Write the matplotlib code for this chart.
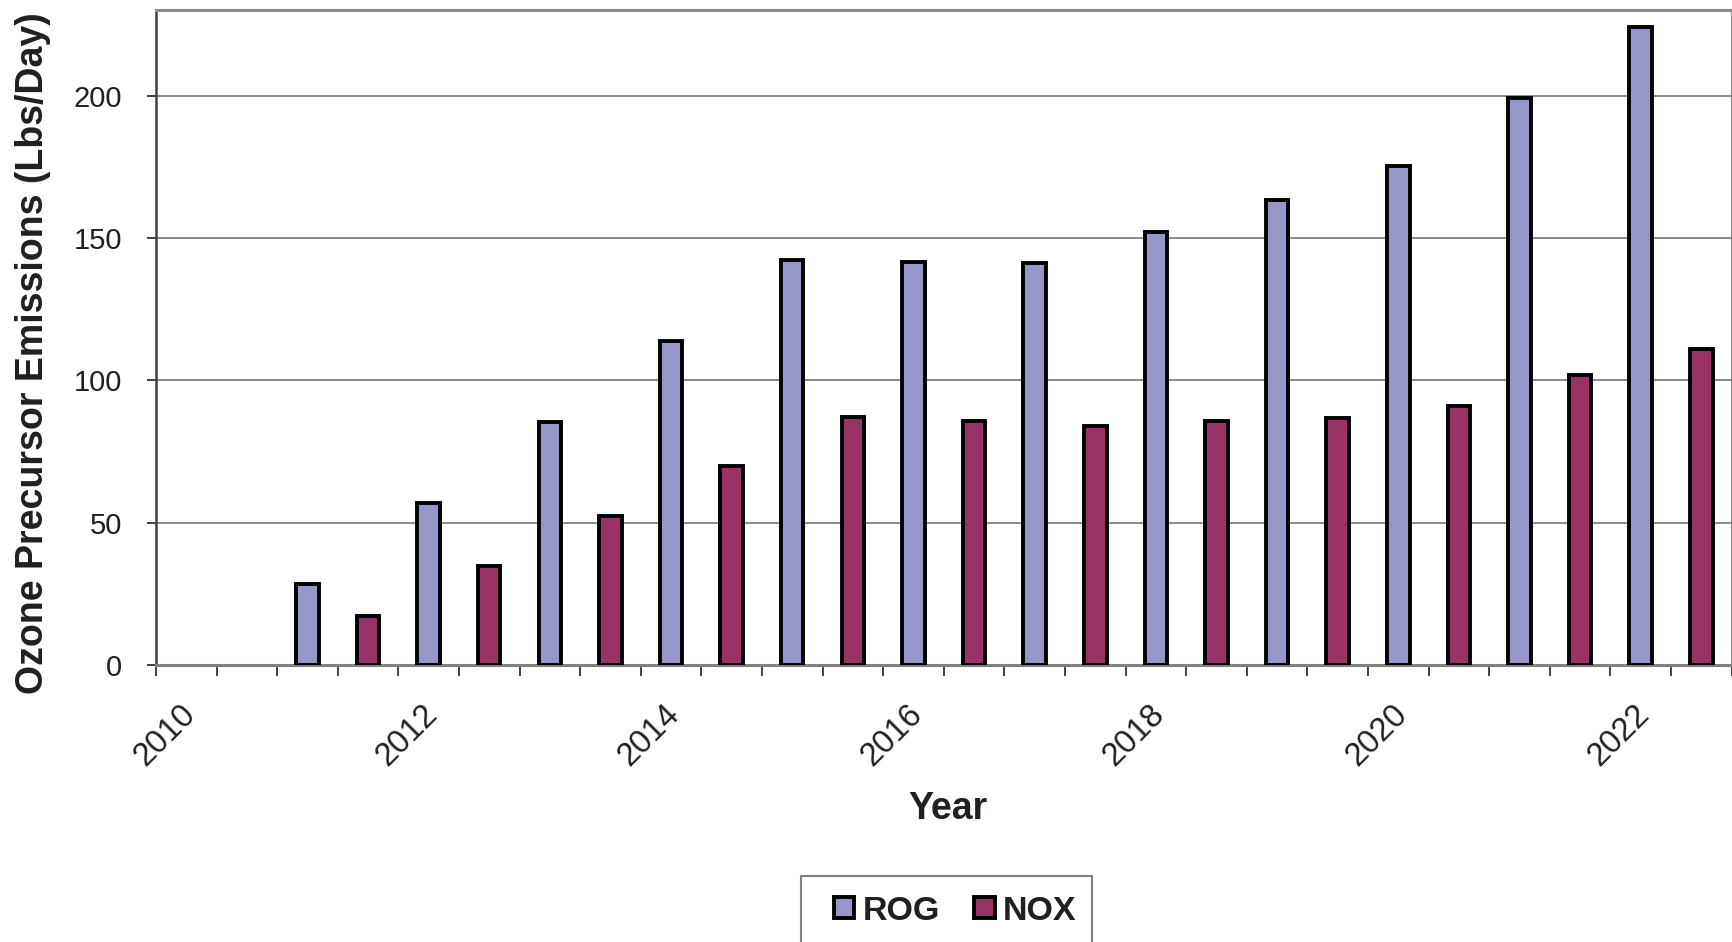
import numpy as np
import matplotlib
matplotlib.use("Agg")
import matplotlib.pyplot as plt
import matplotlib.transforms as mtransforms
from matplotlib.patches import Rectangle

plt.rcParams['font.family'] = ['Liberation Sans', 'DejaVu Sans']

# dados
anos = [2010, 2011, 2012, 2013, 2014, 2015, 2016,
        2017, 2018, 2019, 2020, 2021, 2022]

rog = [0, 28.5, 57.0, 85.3, 113.7, 142.2, 141.6,
       141.2, 152.1, 163.2, 175.3, 199.2, 224.1]

nox = [0, 17.2, 34.7, 52.2, 69.9, 87.1, 85.7,
       84.1, 85.7, 86.7, 91.0, 101.9, 111.0]

yticks = [0, 50, 100, 150, 200]

cor_rog = '#9696c8'
cor_nox = '#993366'
cor_texto = '#231f20'

W, H = 1733, 942

fig = plt.figure(figsize=(W / 100, H / 100), dpi=100)

ax = fig.add_axes([0.090, 0.294, 0.9092, 0.6953])

idx = np.arange(len(anos))
x_rog = 2 * idx
x_nox = 2 * idx + 1

rog = np.array(rog)
nox = np.array(nox)

# cada ano ocupa duas categorias: ROG e depois NOX
ax.bar(
    x_rog[rog > 0],
    rog[rog > 0],
    width=0.37,
    color=cor_rog,
    edgecolor='black',
    linewidth=2.8,
    label='ROG',
    zorder=3
)

ax.bar(
    x_nox[nox > 0],
    nox[nox > 0],
    width=0.37,
    color=cor_nox,
    edgecolor='black',
    linewidth=2.8,
    label='NOX',
    zorder=3
)

ax.set_xlim(-0.5, 2 * len(anos) - 0.5)
ax.set_ylim(0, 230)

# eixo x
ax.set_xticks(x_rog[::2])
ax.set_xticklabels(
    [str(a) for a in anos[::2]],
    rotation=45,
    ha='right',
    va='top',
    rotation_mode='anchor',
    color=cor_texto
)
ax.set_xticks(np.arange(-0.5, 2 * len(anos)), minor=True)

ax.tick_params(axis='x', which='major', length=0, pad=24, labelsize=23.5)
ax.tick_params(axis='x', which='minor', length=8, width=1.3, color='#333333')

desloca = mtransforms.ScaledTranslation(-7 / 100, 0, fig.dpi_scale_trans)
for lbl in ax.get_xticklabels():
    lbl.set_transform(lbl.get_transform() + desloca)

# eixo y
ax.set_yticks(yticks)
ax.tick_params(axis='y', length=6.5, width=1.3, color='#333333',
               pad=18, labelsize=21, labelcolor=cor_texto)

ax.grid(axis='y', color='#808080', linewidth=1.3, zorder=0)
ax.set_axisbelow(True)

for lado in ['top', 'right']:
    ax.spines[lado].set_color('#8c8c8c')
    ax.spines[lado].set_linewidth(2.2)

ax.spines['left'].set_color('#404040')
ax.spines['left'].set_linewidth(1.8)
ax.spines['bottom'].set_color('#808080')
ax.spines['bottom'].set_linewidth(2.2)

# titulos dos eixos
fig.text(
    43 / W,
    1 - 353.5 / H,
    "Ozone Precursor Emissions (Lbs/Day)",
    rotation=90,
    rotation_mode='anchor',
    ha='center',
    va='baseline',
    fontsize=27,
    fontweight='bold',
    color=cor_texto
)

fig.text(
    948 / W,
    1 - 819 / H,
    "Year",
    ha='center',
    va='baseline',
    fontsize=27,
    fontweight='bold',
    color=cor_texto
)

# legenda (moldura desenhada a parte)
fig.patches.append(
    Rectangle(
        (801 / W, -0.05),
        291 / W,
        1 - 876 / H + 0.05,
        transform=fig.transFigure,
        facecolor='white',
        edgecolor='#808080',
        linewidth=1.5,
        zorder=1
    )
)

leg = fig.legend(
    loc='center left',
    bbox_to_anchor=(834 / W, 1 - 911 / H),
    ncol=2,
    prop={'size': 24.5, 'weight': 'bold'},
    handlelength=0.6,
    handleheight=0.6,
    handletextpad=0.25,
    columnspacing=1.0,
    borderpad=0,
    borderaxespad=0,
    frameon=False
)
leg.set_zorder(2)
for t in leg.get_texts():
    t.set_color(cor_texto)

fig.savefig('out.png', dpi=100)
